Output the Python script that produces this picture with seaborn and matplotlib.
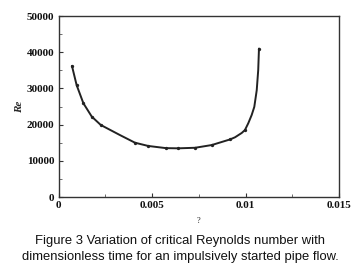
import matplotlib
matplotlib.use("Agg")
import matplotlib.pyplot as plt
import seaborn as sns
import pandas as pd
from matplotlib.ticker import MultipleLocator

sns.set_style("white")

t_vals = [0.00072, 0.00097, 0.00133, 0.00178, 0.00226, 0.00329, 0.00409, 0.00480,
          0.00575, 0.00641, 0.00730, 0.00819, 0.00917, 0.00944, 0.00980, 0.00997,
          0.01015, 0.01033, 0.01047, 0.01060, 0.01068, 0.01072]
re_vals = [36200, 30900, 25900, 22200, 19900, 17100, 15000, 14100,
           13500, 13450, 13600, 14350, 15900, 16500, 17700, 18500,
           20400, 22650, 24900, 29500, 35100, 41000]
marker_idx = [0, 1, 2, 3, 4, 6, 7, 8, 9, 10, 11, 12, 15, 21]

x_ticks = [0, 0.005, 0.01, 0.015]
x_labels = ["0", "0.005", "0.01", "0.015"]
y_ticks = [0, 10000, 20000, 30000, 40000, 50000]
y_labels = ["0", "10000", "20000", "30000", "40000", "50000"]

df = pd.DataFrame({"t": t_vals, "Re": re_vals})

fig = plt.figure(figsize=(3.6, 2.76), dpi=100)
ax = fig.add_axes([0.1625, 0.2862, 0.7792, 0.6558])

sns.lineplot(data=df, x="t", y="Re", ax=ax, sort=False, estimator=None,
             color="#222222", linewidth=1.4, marker="o", markersize=2.4,
             markeredgewidth=0, markevery=marker_idx)

ax.set_xlim(0, 0.015)
ax.set_ylim(0, 50000)
ax.set_xticks(x_ticks)
ax.set_xticklabels(x_labels)
ax.set_yticks(y_ticks)
ax.set_yticklabels(y_labels)
ax.xaxis.set_minor_locator(MultipleLocator(0.0025))
ax.yaxis.set_minor_locator(MultipleLocator(5000))

for lbl in ax.get_xticklabels() + ax.get_yticklabels():
    lbl.set_fontfamily("Liberation Serif")
    lbl.set_fontsize(8)
    lbl.set_fontweight("bold")

ax.tick_params(which="major", direction="in", length=3, width=0.8, pad=3,
               bottom=True, left=True, top=False, right=False, colors="#333333",
               labelcolor="#111111")
ax.tick_params(which="minor", direction="in", length=2, width=0.6,
               bottom=True, left=True, top=False, right=False, colors="#555555")

for s in ax.spines.values():
    s.set_color("#333333")
    s.set_linewidth(1.0)

ax.set_xlabel("?", fontfamily="Liberation Serif", fontsize=6, labelpad=5)
ax.set_ylabel("Re", fontfamily="Liberation Serif", fontsize=8, fontstyle="italic",
              fontweight="bold", labelpad=2)

fig.text(0.5, 0.127, "Figure 3 Variation of critical Reynolds number with",
         ha="center", va="center", fontfamily="Liberation Sans", fontsize=9.4,
         color="#111111")
fig.text(0.5, 0.068, "dimensionless time for an impulsively started pipe flow.",
         ha="center", va="center", fontfamily="Liberation Sans", fontsize=9.4,
         color="#111111")

fig.savefig("out.png", dpi=100)
